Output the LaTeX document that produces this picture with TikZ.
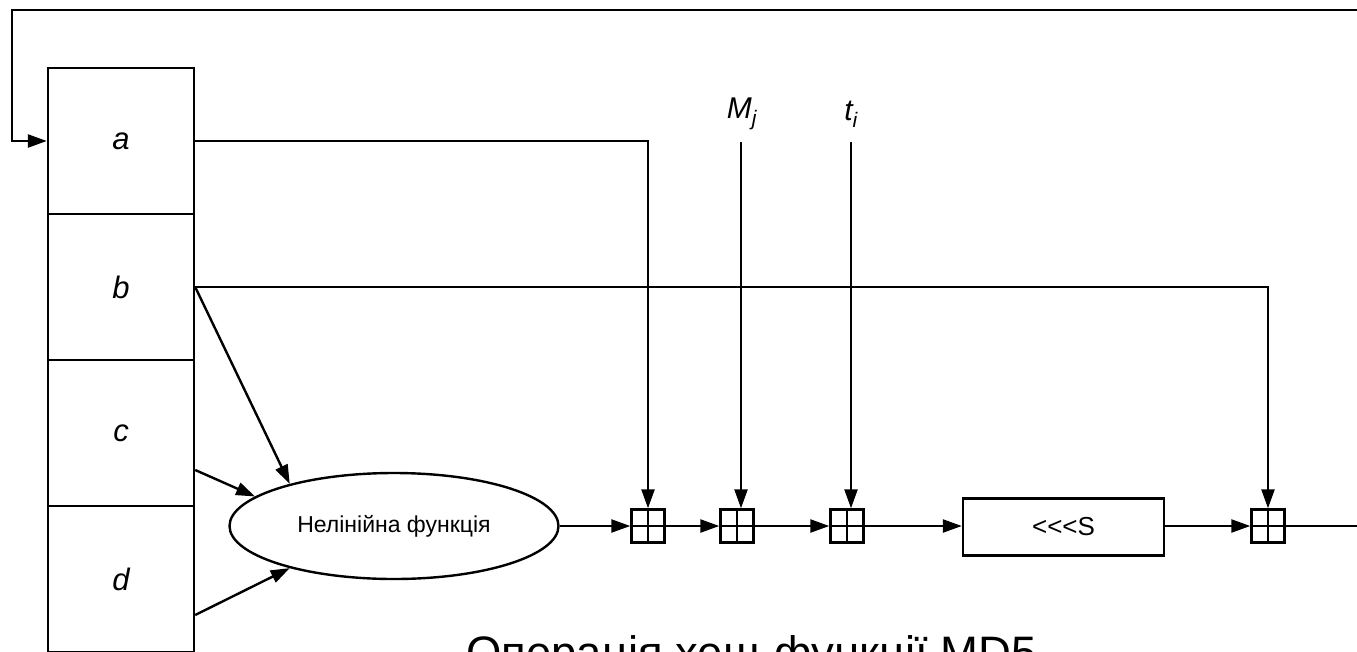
\documentclass[tikz,border=0pt]{standalone}
\usepackage{fontspec}
\setmainfont{Liberation Sans}
\usetikzlibrary{arrows.meta,shapes.geometric,calc}
\begin{document}
\begin{tikzpicture}[x=1pt,y=-1pt, line width=2.4pt,
  cell/.style={draw, minimum width=146pt, minimum height=146pt, inner sep=0pt,
    font=\fontsize{31}{34}\selectfont\itshape},
  plusbox/.style={draw, minimum size=33pt, inner sep=0pt},
  arr/.style={-{Triangle[length=19pt,width=13pt]}},
  lbl/.style={font=\fontsize{30}{33}\selectfont\itshape, inner sep=0pt}
]
\useasboundingbox (0,0) rectangle (1357,651);
% register
\node[cell] (ra) at (121,141) {a};
\node[cell] (rb) at (121,287) {b};
\node[cell] (rc) at (121,433) {c};
\node[cell] (rd) at (121,579) {d};
% function and chain
\node[draw, ellipse, minimum width=329pt, minimum height=106pt, inner sep=0pt,
  font=\fontsize{23}{26}\selectfont] (ell) at (394,526) {Нелінійна функція};
\node[plusbox] (p1) at (648,526) {};
\node[plusbox] (p2) at (737,526) {};
\node[plusbox] (p3) at (847,526) {};
\node[draw, minimum width=201pt, minimum height=57pt, inner sep=0pt,
  font=\fontsize{26}{30}\selectfont] (rot) at (1063.5,527) {<\kern0pt<\kern0pt<\kern0pt S};
\node[plusbox] (p4) at (1268,526) {};
\foreach \p in {p1,p2,p3,p4}
  \draw (\p.north) -- (\p.south) (\p.west) -- (\p.east);
% inputs
\node[lbl] (mj) at (742,114) {M\textsubscript{j}};
\node[lbl] (ti) at (851,114) {t\textsubscript{i}};
\coordinate (mjs) at (741,142);
\coordinate (tis) at (851,142);
\draw[arr] (mjs) -- (mjs |- p2.north);
\draw[arr] (tis) -- (tis |- p3.north);
% chain connectors
\draw[arr] (ell.east) -- (p1.west);
\draw[arr] (p1.east) -- (p2.west);
\draw[arr] (p2.east) -- (p3.west);
\draw[arr] (p3.east) -- (p3.east -| rot.west);
\draw[arr] (rot.east |- p4.west) -- (p4.west);
% feedback
\coordinate (fbr) at (1390,526);
\coordinate (fbl) at (12,10);
\draw[arr] (p4.east) -- (fbr) |- (fbl) |- (ra.west);
% register outputs
\draw[arr] (ra.east) -| (p1.north);
\draw[arr] (rb.east) -| (p4.north);
\draw[arr] (rb.east) -- (ell.158);
\draw[arr] ($(rc.east)+(0,37)$) -- (ell.168);
\draw[arr] ($(rd.east)+(0,36)$) -- (ell.202);
% title
\node[anchor=base west, inner sep=0pt, font=\fontsize{45.5}{50}\selectfont] (title) at (465,668) {Операція хеш-функції MD5};
\end{tikzpicture}
\end{document}
